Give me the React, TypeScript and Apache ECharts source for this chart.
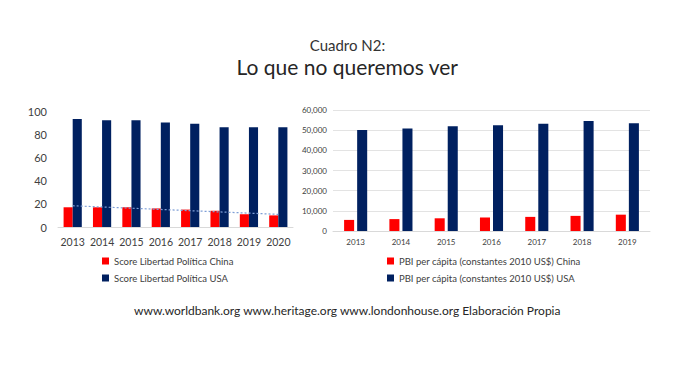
import React, { useEffect, useRef } from "react";
import * as echarts from "echarts";

const yearsLeft = ["2013", "2014", "2015", "2016", "2017", "2018", "2019", "2020"];
const scoreChina = [17, 17, 17, 16, 15, 14, 11, 10];
const scoreUSA = [93, 92, 92, 90, 89, 86, 86, 86];
const trendChina = [18.3, null, null, null, null, null, null, 10.9];

const yearsRight = ["2013", "2014", "2015", "2016", "2017", "2018", "2019"];
const gdpChina = [5500, 5900, 6300, 6700, 7000, 7500, 8100];
const gdpUSA = [50100, 50800, 51900, 52400, 53200, 54600, 53400];

const RED = "#FF0000";
const NAVY = "#002060";
const FONT = "Lato, 'Open Sans', sans-serif";

export default function App() {
  const ref = useRef<HTMLDivElement>(null);
  useEffect(() => {
    if (!ref.current) return;
    const chart = echarts.init(ref.current, null, { renderer: "svg" });
    chart.setOption({
      animation: false,
      backgroundColor: "#ffffff",
      textStyle: { fontFamily: FONT },
      graphic: [
        {
          type: "text",
          left: "center",
          top: 37,
          style: { text: "Cuadro N2:", fontSize: 15, fill: "#333333", fontFamily: FONT },
        },
        {
          type: "text",
          left: "center",
          top: 56,
          style: { text: "Lo que no queremos ver", fontSize: 21, fill: "#262626", fontFamily: FONT },
        },
        {
          type: "text",
          left: "center",
          top: 304,
          style: {
            text: "www.worldbank.org www.heritage.org www.londonhouse.org Elaboración Propia",
            fontSize: 12,
            fill: "#262626",
            fontFamily: FONT,
          },
        },
      ],
      legend: [
        {
          orient: "vertical",
          left: 97,
          top: 251,
          itemWidth: 7,
          itemHeight: 7,
          itemGap: 7,
          icon: "rect",
          data: ["Score Libertad Política China", "Score Libertad Política USA"],
          textStyle: { fontSize: 9.5, color: "#404040", fontFamily: FONT },
        },
        {
          orient: "vertical",
          left: 382,
          top: 251,
          itemWidth: 7,
          itemHeight: 7,
          itemGap: 7,
          icon: "rect",
          data: ["PBI per cápita (constantes 2010 US$) China", "PBI per cápita (constantes 2010 US$) USA"],
          textStyle: { fontSize: 9.5, color: "#404040", fontFamily: FONT },
        },
      ],
      grid: [
        { left: 58, right: 402, top: 111, bottom: 164 },
        { left: 333, right: 45, top: 110, bottom: 160 },
      ],
      xAxis: [
        {
          type: "category",
          gridIndex: 0,
          data: yearsLeft,
          axisLine: { lineStyle: { color: "#d9d9d9" } },
          axisTick: { show: false },
          axisLabel: { interval: 0, fontSize: 10.5, color: "#404040", margin: 9 },
        },
        {
          type: "category",
          gridIndex: 1,
          data: yearsRight,
          axisLine: { lineStyle: { color: "#d9d9d9" } },
          axisTick: { show: false },
          axisLabel: { interval: 0, fontSize: 8, color: "#404040", margin: 7 },
        },
      ],
      yAxis: [
        {
          type: "value",
          gridIndex: 0,
          min: 0,
          max: 100,
          interval: 20,
          splitLine: { show: false },
          axisLine: { show: false },
          axisTick: { show: false },
          axisLabel: { fontSize: 11, color: "#404040", margin: 11 },
        },
        {
          type: "value",
          gridIndex: 1,
          min: 0,
          max: 60000,
          interval: 10000,
          splitLine: { lineStyle: { color: "#e3e3e3" } },
          axisLine: { show: false },
          axisTick: { show: false },
          axisLabel: {
            fontSize: 8,
            color: "#404040",
            margin: 6,
            formatter: (v: number) => v.toLocaleString("en-US"),
          },
        },
      ],
      series: [
        {
          name: "Score Libertad Política China",
          type: "bar",
          xAxisIndex: 0,
          yAxisIndex: 0,
          data: scoreChina,
          itemStyle: { color: RED },
          barGap: "0%",
          barCategoryGap: "38%",
        },
        {
          name: "Score Libertad Política USA",
          type: "bar",
          xAxisIndex: 0,
          yAxisIndex: 0,
          data: scoreUSA,
          itemStyle: { color: NAVY },
          barGap: "0%",
          barCategoryGap: "38%",
        },
        {
          name: "Tendencia China",
          type: "line",
          xAxisIndex: 0,
          yAxisIndex: 0,
          data: trendChina,
          connectNulls: true,
          symbol: "none",
          z: 5,
          lineStyle: { color: "#7f9fd6", width: 1.2, type: [2, 2] },
        },
        {
          name: "PBI per cápita (constantes 2010 US$) China",
          type: "bar",
          xAxisIndex: 1,
          yAxisIndex: 1,
          data: gdpChina,
          itemStyle: { color: RED },
          barGap: "30%",
          barCategoryGap: "49%",
        },
        {
          name: "PBI per cápita (constantes 2010 US$) USA",
          type: "bar",
          xAxisIndex: 1,
          yAxisIndex: 1,
          data: gdpUSA,
          itemStyle: { color: NAVY },
          barGap: "30%",
          barCategoryGap: "49%",
        },
      ],
    });
    return () => chart.dispose();
  }, []);
  return (
    <div
      ref={ref}
      style={{ position: "fixed", left: 0, top: 0, width: 695, height: 391, background: "#fff" }}
    />
  );
}
